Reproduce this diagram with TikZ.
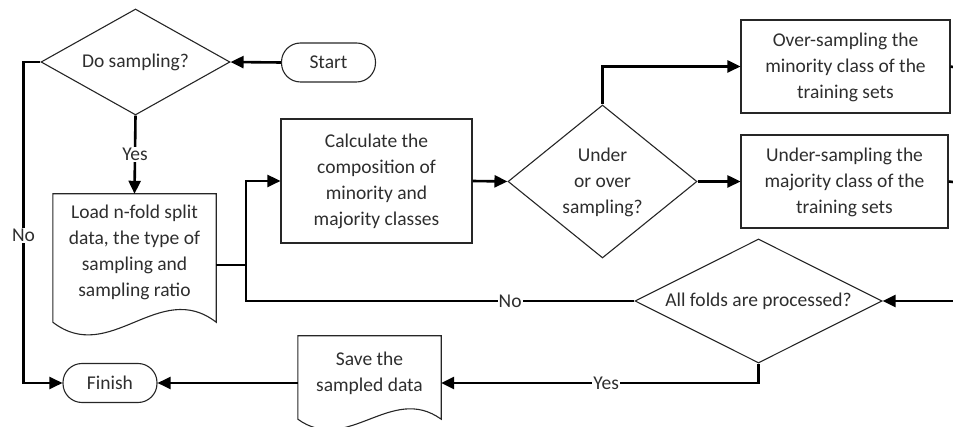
\documentclass[tikz,border=0pt]{standalone}
\usepackage{fontspec}
\setmainfont{Carlito}
\usetikzlibrary{arrows.meta,shapes.geometric,calc}
\begin{document}
\begin{tikzpicture}[x=1pt,y=-1pt,
  txt/.style={font=\fontsize{19.5pt}{26pt}\selectfont, text=black!82, align=center, inner sep=0pt},
  outline/.style={draw=black!85, line width=1.1pt},
  procbox/.style={outline, rectangle, inner sep=0pt},
  decision/.style={outline, diamond, inner sep=0pt},
  terminal/.style={outline, rectangle, rounded corners=19pt, inner sep=0pt, minimum width=94pt, minimum height=39pt},
  ghost/.style={rectangle, inner sep=0pt},
  conn/.style={line width=2.6pt, black},
  arr/.style={conn, -{Triangle[length=13pt,width=12pt]}},
  lbl/.style={txt, fill=white, inner sep=1pt}
]
\clip (0,0) rectangle (953,427);
\useasboundingbox (0,0) rectangle (953,427);

% nodes
\node[decision, minimum width=189pt, minimum height=106pt] (ds) at (135.5,62) {};
\node[txt] at (ds) {Do sampling?};
\node[terminal] (start) at (328.5,62.5) {};
\node[txt] at (start) {Start};
\node[terminal] (finish) at (110,383) {};
\node[txt] at (finish) {Finish};

\node[ghost, minimum width=163pt, minimum height=142pt] (load) at (134.5,265) {};
\draw[outline] (load.north west) -- (load.north east) -- ([yshift=14pt]load.south east)
  .. controls +(-57pt,44pt) and +(57pt,-44pt) .. ([yshift=14pt]load.south west) -- cycle;
\node[txt] at (134.5,252) {Load n-fold split\\data, the type of\\sampling and\\sampling ratio};

\node[procbox, minimum width=191pt, minimum height=124pt] (calc) at (376.5,181) {};
\node[txt] at (calc) {Calculate the\\composition of\\minority and\\majority classes};

\node[decision, minimum width=189pt, minimum height=153pt] (uo) at (602.5,181.5) {};
\node[txt] at (602.5,182) {Under\\or over\\sampling?};

\node[procbox, minimum width=209pt, minimum height=93pt] (over) at (845.5,66.5) {};
\node[txt] at (845.5,67) {Over-sampling the\\minority class of the\\training sets};

\node[procbox, minimum width=207pt, minimum height=93pt] (under) at (844.5,181.5) {};
\node[txt] at (844.5,182) {Under-sampling the\\majority class of the\\training sets};

\node[decision, minimum width=247pt, minimum height=124pt] (af) at (758.5,301) {};
\node[txt] at (af) {All folds are processed?};

\node[ghost, minimum width=143pt, minimum height=94pt] (save) at (369.5,383) {};
\draw[outline] (save.north west) -- (save.north east) -- ([yshift=11pt]save.south east)
  .. controls +(-50pt,36pt) and +(50pt,-36pt) .. ([yshift=11pt]save.south west) -- cycle;
\node[txt] at (369.5,373) {Save the\\sampled data};

% free ends at the right edge
\coordinate (e1) at (953,67);
\coordinate (e2) at (953,182);
\coordinate (e3) at (953,301);
\coordinate (junc) at (246,265);

% connectors
\draw[arr] (start.west) -- (ds.east);
\draw[arr] (ds.south) -- node[lbl, pos=0.5]{Yes} (load.north);
\draw[arr] (ds.west) -- ++(-17,0) |- node[lbl, pos=0.27]{No} (finish.west);
\draw[conn] (load.east) -- (junc);
\draw[arr] (af.west) -- node[lbl, pos=0.32]{No} (af.west -| junc) -- (junc) |- (calc.west);
\draw[arr] (calc.east) -- (uo.west);
\draw[arr] (uo.north) |- (over.west);
\draw[arr] (uo.east) -- (under.west);
\draw[conn] (over.east) -- (e1);
\draw[conn] (under.east) -- (e2);
\draw[arr] (e3) -- (af.east);
\draw[arr] (af.south) |- node[lbl, pos=0.74]{Yes} (save.east);
\draw[arr] (save.west) -- (finish.east);
\end{tikzpicture}
\end{document}
